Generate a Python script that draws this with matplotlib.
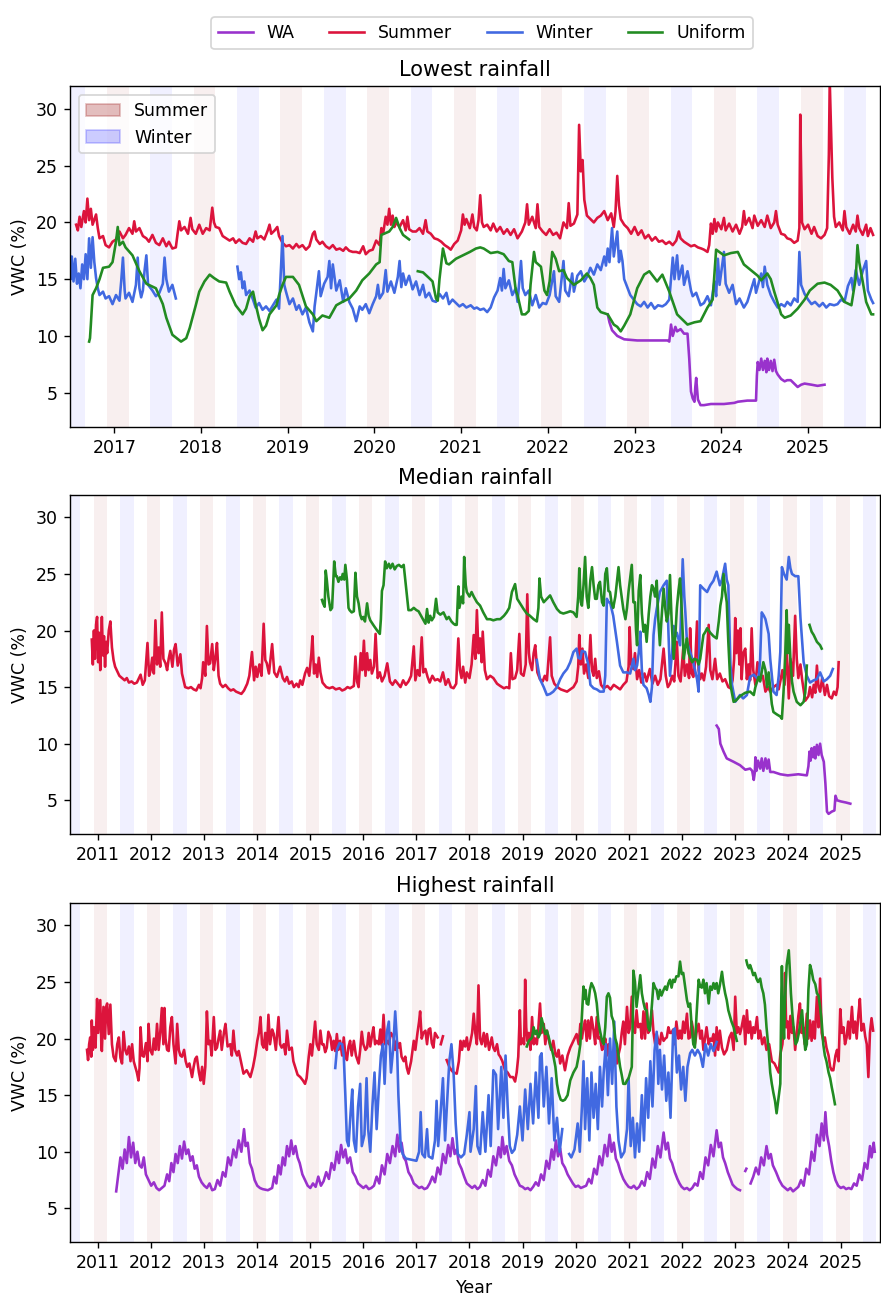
import numpy as np
import matplotlib
matplotlib.use("Agg")
import matplotlib.pyplot as plt
from matplotlib.patches import Patch
from matplotlib.lines import Line2D

nan = float("nan")

# ---------------------------------------------------------------------------
# Volumetric water content (%) by climate group, decimal-year timestamps
# ---------------------------------------------------------------------------

# Lowest rainfall site
low_wa = [(2022.69, 11.9), (2022.71, 11.2), (2022.74, 10.5), (2022.80, 10.0), (2022.88, 9.7),
          (2023.03, 9.6), (2023.19, 9.6), (2023.32, 9.6), (2023.38, 9.6), (2023.40, 9.5),
          (2023.42, 11.0), (2023.44, 10.0), (2023.47, 10.8), (2023.49, 10.4), (2023.53, 10.6),
          (2023.57, 10.2), (2023.61, 10.2), (2023.63, 8.0), (2023.65, 5.1), (2023.67, 4.5),
          (2023.69, 4.2), (2023.70, 5.5), (2023.71, 6.3), (2023.73, 4.4), (2023.76, 3.9),
          (2023.80, 3.9), (2023.88, 4.0), (2024.03, 4.0), (2024.15, 4.1), (2024.19, 4.2),
          (2024.30, 4.3), (2024.40, 4.3), (2024.41, 6.5), (2024.42, 7.7), (2024.44, 7.0),
          (2024.46, 8.0), (2024.48, 7.0), (2024.50, 7.8), (2024.52, 6.8), (2024.53, 8.0),
          (2024.55, 7.0), (2024.57, 7.8), (2024.59, 6.9), (2024.61, 7.9), (2024.63, 6.9),
          (2024.65, 6.6), (2024.69, 6.2), (2024.73, 6.0), (2024.76, 6.1), (2024.80, 6.1),
          (2024.84, 5.8), (2024.88, 5.5), (2024.92, 5.7), (2024.96, 5.8), (2025.04, 5.7),
          (2025.11, 5.6), (2025.19, 5.7)]

low_summer = [(2016.56, 19.8), (2016.58, 19.3), (2016.60, 20.5), (2016.62, 19.6), (2016.65, 21.0),
              (2016.67, 20.0), (2016.69, 22.1), (2016.71, 20.2), (2016.73, 21.2), (2016.75, 19.8),
              (2016.79, 20.7), (2016.81, 19.5), (2016.83, 18.6), (2016.87, 18.8), (2016.90, 18.0),
              (2016.94, 17.8), (2016.98, 18.3), (2017.02, 18.5), (2017.06, 19.2), (2017.10, 18.6),
              (2017.13, 18.9), (2017.17, 19.5), (2017.21, 19.0), (2017.23, 20.1), (2017.25, 19.2),
              (2017.29, 19.5), (2017.33, 18.8), (2017.37, 18.6), (2017.40, 18.3), (2017.44, 18.9),
              (2017.48, 18.2), (2017.52, 18.0), (2017.56, 18.6), (2017.60, 17.9), (2017.63, 18.3),
              (2017.67, 17.7), (2017.71, 17.8), (2017.73, 19.0), (2017.75, 20.1), (2017.77, 19.3),
              (2017.81, 19.6), (2017.85, 19.0), (2017.88, 20.4), (2017.90, 19.4), (2017.94, 19.0),
              (2017.98, 19.8), (2018.02, 19.0), (2018.06, 19.5), (2018.10, 19.3), (2018.13, 21.3),
              (2018.15, 20.0), (2018.17, 19.6), (2018.21, 19.5), (2018.25, 18.8), (2018.29, 18.6),
              (2018.33, 18.4), (2018.37, 18.6), (2018.40, 18.2), (2018.44, 18.5), (2018.48, 18.2),
              (2018.52, 18.1), (2018.56, 18.6), (2018.60, 18.3), (2018.63, 19.2), (2018.65, 18.6),
              (2018.69, 18.8), (2018.73, 18.5), (2018.77, 19.3), (2018.79, 19.8), (2018.81, 19.0),
              (2018.85, 19.3), (2018.88, 19.6), (2018.90, 18.8), (2018.94, 18.2), (2018.98, 17.9),
              (2019.02, 18.0), (2019.06, 17.7), (2019.10, 18.1), (2019.13, 17.8), (2019.17, 18.0),
              (2019.21, 17.6), (2019.25, 17.9), (2019.29, 19.0), (2019.31, 19.2), (2019.33, 18.5),
              (2019.37, 18.1), (2019.40, 18.3), (2019.44, 17.9), (2019.48, 17.7), (2019.52, 18.0),
              (2019.56, 17.6), (2019.60, 17.7), (2019.64, 17.5), (2019.67, 17.8), (2019.71, 17.5),
              (2019.75, 17.4), (2019.79, 17.4), (2019.83, 17.3), (2019.87, 17.9), (2019.90, 17.2),
              (2019.94, 17.5), (2019.98, 17.6), (2020.02, 18.4), (2020.06, 18.0), (2020.08, 19.5),
              (2020.10, 19.0), (2020.13, 20.5), (2020.15, 19.8), (2020.17, 21.2), (2020.19, 19.8),
              (2020.21, 20.6), (2020.23, 19.6), (2020.25, 20.0), (2020.29, 19.6), (2020.33, 20.2),
              (2020.36, 19.3), (2020.38, 20.5), (2020.40, 19.4), (2020.44, 19.2), (2020.48, 19.2),
              (2020.52, 19.5), (2020.56, 19.0), (2020.59, 20.2), (2020.61, 19.2), (2020.65, 19.0),
              (2020.69, 18.6), (2020.73, 18.5), (2020.77, 18.3), (2020.81, 18.0), (2020.85, 17.8),
              (2020.88, 17.6), (2020.92, 18.1), (2020.96, 18.4), (2021.00, 19.3), (2021.02, 20.7),
              (2021.04, 19.8), (2021.06, 20.3), (2021.10, 19.5), (2021.13, 20.7), (2021.15, 19.6),
              (2021.18, 19.3), (2021.20, 20.2), (2021.22, 22.4), (2021.24, 20.0), (2021.26, 19.6),
              (2021.30, 19.8), (2021.34, 19.3), (2021.37, 19.9), (2021.41, 19.2), (2021.45, 19.6),
              (2021.49, 19.0), (2021.53, 19.4), (2021.57, 18.9), (2021.61, 19.4), (2021.65, 18.6),
              (2021.70, 19.2), (2021.74, 20.0), (2021.76, 21.6), (2021.78, 19.8), (2021.82, 20.5),
              (2021.86, 19.5), (2021.88, 21.6), (2021.90, 19.6), (2021.94, 19.2), (2021.98, 18.9),
              (2022.02, 19.4), (2022.06, 18.9), (2022.10, 19.1), (2022.14, 18.6), (2022.18, 20.0),
              (2022.22, 19.5), (2022.24, 21.7), (2022.26, 19.7), (2022.30, 19.9), (2022.34, 20.7),
              (2022.36, 28.6), (2022.38, 24.5), (2022.40, 25.5), (2022.42, 22.0), (2022.45, 20.6),
              (2022.49, 20.3), (2022.53, 20.0), (2022.57, 20.4), (2022.61, 20.6), (2022.65, 21.0),
              (2022.69, 20.2), (2022.73, 20.8), (2022.76, 19.6), (2022.78, 21.0), (2022.80, 24.1),
              (2022.82, 21.5), (2022.84, 20.3), (2022.88, 19.8), (2022.92, 19.5), (2022.96, 19.0),
              (2023.00, 19.6), (2023.04, 18.9), (2023.08, 19.3), (2023.12, 18.6), (2023.16, 18.9),
              (2023.20, 18.4), (2023.24, 18.7), (2023.28, 18.3), (2023.32, 18.4), (2023.36, 18.1),
              (2023.40, 18.3), (2023.44, 18.0), (2023.48, 18.4), (2023.51, 19.2), (2023.53, 18.6),
              (2023.57, 18.3), (2023.61, 18.1), (2023.65, 17.9), (2023.69, 18.0), (2023.73, 17.8),
              (2023.77, 17.7), (2023.80, 17.6), (2023.84, 17.4), (2023.86, 18.0), (2023.88, 19.9),
              (2023.90, 19.0), (2023.92, 20.3), (2023.94, 19.2), (2023.96, 20.0), (2024.00, 19.4),
              (2024.03, 20.4), (2024.05, 19.3), (2024.09, 19.9), (2024.13, 19.2), (2024.17, 19.8),
              (2024.21, 19.0), (2024.24, 19.6), (2024.26, 21.0), (2024.28, 19.8), (2024.32, 20.4),
              (2024.36, 19.5), (2024.38, 20.6), (2024.42, 19.7), (2024.46, 20.2), (2024.50, 19.6),
              (2024.53, 20.6), (2024.57, 19.5), (2024.61, 20.0), (2024.63, 21.0), (2024.65, 19.8),
              (2024.69, 19.0), (2024.73, 18.9), (2024.76, 18.6), (2024.80, 18.5), (2024.84, 18.2),
              (2024.88, 18.4), (2024.90, 19.5), (2024.91, 29.5), (2024.93, 20.0), (2024.96, 19.4),
              (2025.00, 19.8), (2025.04, 19.0), (2025.07, 19.6), (2025.11, 18.8), (2025.15, 18.6),
              (2025.19, 18.9), (2025.22, 19.5), (2025.24, 26.0), (2025.25, 32.5), (2025.27, 27.0),
              (2025.28, 23.9), (2025.30, 20.5), (2025.32, 19.6), (2025.36, 20.0), (2025.40, 19.3),
              (2025.42, 21.0), (2025.44, 19.6), (2025.48, 19.0), (2025.52, 19.8), (2025.55, 19.2),
              (2025.57, 20.6), (2025.59, 19.5), (2025.63, 18.9), (2025.67, 19.8), (2025.69, 18.8),
              (2025.72, 19.5), (2025.75, 18.9)]

low_winter = [(2016.49, 16.0), (2016.50, 15.0), (2016.51, 17.0), (2016.53, 14.8), (2016.55, 16.8),
              (2016.57, 14.6), (2016.59, 15.5), (2016.61, 14.2), (2016.63, 16.3), (2016.65, 15.0),
              (2016.67, 17.2), (2016.69, 15.0), (2016.71, 18.6), (2016.73, 16.0), (2016.75, 18.7),
              (2016.77, 16.5), (2016.79, 15.1), (2016.81, 14.2), (2016.83, 13.6), (2016.87, 13.9),
              (2016.90, 13.3), (2016.94, 13.5), (2016.98, 12.8), (2017.02, 13.6), (2017.06, 13.1),
              (2017.08, 14.8), (2017.10, 16.9), (2017.12, 14.0), (2017.13, 13.3), (2017.17, 13.8),
              (2017.21, 13.0), (2017.25, 14.5), (2017.27, 16.9), (2017.29, 14.2), (2017.31, 13.4),
              (2017.33, 14.0), (2017.35, 15.8), (2017.37, 17.1), (2017.39, 14.5), (2017.44, 14.0),
              (2017.48, 13.5), (2017.52, 13.8), (2017.56, 14.6), (2017.58, 16.9), (2017.60, 15.0),
              (2017.63, 13.9), (2017.67, 14.5), (2017.71, 13.3), (2017.80, nan),
              (2018.42, 16.1), (2018.44, 15.0), (2018.46, 15.6), (2018.48, 14.2), (2018.50, 14.8),
              (2018.52, 13.6), (2018.56, 14.0), (2018.60, 13.2), (2018.63, 12.5), (2018.67, 12.9),
              (2018.71, 12.3), (2018.75, 12.6), (2018.79, 12.2), (2018.83, 12.7), (2018.87, 13.2),
              (2018.90, 12.4), (2018.94, 18.8), (2018.96, 14.5), (2018.98, 13.9), (2019.02, 12.8),
              (2019.06, 13.3), (2019.10, 12.3), (2019.13, 12.7), (2019.17, 11.9), (2019.21, 12.5),
              (2019.25, 11.2), (2019.29, 10.4), (2019.31, 12.6), (2019.33, 13.8), (2019.36, 15.7),
              (2019.38, 13.5), (2019.42, 14.6), (2019.46, 15.2), (2019.48, 16.6), (2019.50, 14.2),
              (2019.52, 16.3), (2019.56, 14.0), (2019.60, 14.9), (2019.64, 13.0), (2019.67, 14.2),
              (2019.71, 13.0), (2019.75, 12.4), (2019.79, 11.3), (2019.83, 12.6), (2019.86, 12.3),
              (2019.90, 12.8), (2019.94, 12.0), (2019.98, 12.8), (2020.02, 13.5), (2020.04, 14.5),
              (2020.06, 13.3), (2020.10, 13.8), (2020.13, 15.8), (2020.15, 13.9), (2020.19, 14.8),
              (2020.23, 13.8), (2020.27, 15.2), (2020.29, 16.6), (2020.31, 14.3), (2020.33, 15.5),
              (2020.36, 14.5), (2020.40, 15.3), (2020.44, 14.1), (2020.48, 14.8), (2020.52, 13.6),
              (2020.56, 14.5), (2020.59, 13.4), (2020.63, 13.8), (2020.67, 13.1), (2020.71, 13.0),
              (2020.75, 13.7), (2020.79, 13.3), (2020.83, 13.8), (2020.86, 12.8), (2020.90, 13.2),
              (2020.94, 12.9), (2020.98, 12.6), (2021.02, 12.8), (2021.06, 12.5), (2021.11, 12.7),
              (2021.15, 12.4), (2021.18, 12.5), (2021.22, 12.3), (2021.26, 12.4), (2021.30, 12.1),
              (2021.34, 12.5), (2021.38, 13.4), (2021.42, 14.0), (2021.45, 15.1), (2021.47, 14.0),
              (2021.49, 15.9), (2021.51, 14.2), (2021.55, 14.9), (2021.59, 13.6), (2021.63, 14.2),
              (2021.65, 13.0), (2021.67, 14.7), (2021.69, 16.6), (2021.71, 14.2), (2021.74, 13.6),
              (2021.78, 14.0), (2021.82, 12.7), (2021.86, 13.6), (2021.90, 12.5), (2021.94, 12.9),
              (2021.98, 12.8), (2022.02, 13.6), (2022.07, 15.7), (2022.09, 13.5), (2022.13, 13.0),
              (2022.18, 16.6), (2022.20, 14.0), (2022.24, 13.5), (2022.28, 15.5), (2022.30, 13.9),
              (2022.34, 15.3), (2022.38, 15.7), (2022.42, 14.8), (2022.45, 15.2), (2022.49, 16.0),
              (2022.53, 15.4), (2022.57, 16.3), (2022.61, 15.8), (2022.65, 17.0), (2022.67, 16.2),
              (2022.69, 17.7), (2022.71, 16.5), (2022.74, 19.5), (2022.76, 17.0), (2022.80, 19.2),
              (2022.82, 16.5), (2022.84, 17.5), (2022.86, 16.6), (2022.88, 15.0), (2022.92, 14.2),
              (2022.95, 13.6), (2022.99, 13.2), (2023.03, 12.8), (2023.07, 12.6), (2023.11, 13.0),
              (2023.15, 12.5), (2023.19, 12.9), (2023.23, 12.4), (2023.27, 12.7), (2023.32, 12.6),
              (2023.36, 12.8), (2023.40, 13.2), (2023.44, 16.9), (2023.46, 15.0), (2023.49, 17.1),
              (2023.51, 15.0), (2023.55, 16.2), (2023.57, 14.5), (2023.61, 15.7), (2023.65, 14.0),
              (2023.67, 13.5), (2023.71, 13.8), (2023.76, 12.7), (2023.80, 12.9), (2023.84, 13.5),
              (2023.88, 12.7), (2023.92, 14.8), (2023.94, 13.5), (2023.96, 16.8), (2023.98, 14.5),
              (2024.03, 17.4), (2024.05, 14.6), (2024.09, 13.8), (2024.13, 14.5), (2024.17, 12.8),
              (2024.21, 13.3), (2024.26, 12.5), (2024.30, 13.0), (2024.34, 14.0), (2024.38, 15.0),
              (2024.40, 13.8), (2024.46, 15.5), (2024.48, 14.3), (2024.50, 16.1), (2024.53, 14.5),
              (2024.57, 13.6), (2024.61, 13.0), (2024.65, 12.5), (2024.69, 12.8), (2024.73, 12.6),
              (2024.76, 13.0), (2024.80, 12.7), (2024.84, 13.3), (2024.88, 13.0), (2024.90, 17.4),
              (2024.92, 14.5), (2024.96, 13.7), (2025.00, 13.2), (2025.04, 12.8), (2025.08, 13.0),
              (2025.13, 12.6), (2025.17, 12.9), (2025.21, 12.5), (2025.25, 12.8), (2025.30, 12.7),
              (2025.34, 12.8), (2025.38, 13.2), (2025.42, 13.0), (2025.46, 14.4), (2025.50, 15.1),
              (2025.52, 14.0), (2025.55, 15.8), (2025.59, 14.5), (2025.63, 15.7), (2025.67, 16.6),
              (2025.69, 14.0), (2025.73, 13.2), (2025.75, 12.9)]

low_uniform = [(2016.71, 9.5), (2016.72, 9.8), (2016.73, 11.0), (2016.75, 13.6), (2016.79, 14.2),
               (2016.83, 15.0), (2016.87, 16.0), (2016.94, 16.1), (2016.98, 16.5), (2017.02, 18.3),
               (2017.04, 19.6), (2017.06, 18.0), (2017.10, 18.3), (2017.13, 17.8), (2017.21, 17.1),
               (2017.29, 15.7), (2017.37, 14.6), (2017.48, 14.2), (2017.56, 12.8), (2017.60, 11.6),
               (2017.67, 10.1), (2017.72, 9.8), (2017.77, 9.5), (2017.83, 9.8), (2017.87, 10.7),
               (2017.94, 12.7), (2017.98, 13.9), (2018.04, 14.8), (2018.10, 15.4), (2018.15, 15.1),
               (2018.21, 14.8), (2018.29, 14.7), (2018.33, 13.9), (2018.40, 12.7), (2018.48, 11.9),
               (2018.52, 12.4), (2018.56, 13.5), (2018.60, 13.9), (2018.63, 12.8), (2018.67, 11.5),
               (2018.71, 10.5), (2018.75, 10.9), (2018.79, 11.9), (2018.87, 12.7), (2018.90, 13.6),
               (2018.94, 14.5), (2018.98, 15.2), (2019.06, 15.2), (2019.13, 14.5), (2019.21, 12.6),
               (2019.29, 11.9), (2019.33, 11.3), (2019.40, 11.8), (2019.48, 11.6), (2019.56, 12.7),
               (2019.63, 13.0), (2019.71, 13.3), (2019.79, 14.0), (2019.86, 14.9), (2019.94, 15.5),
               (2020.02, 16.3), (2020.06, 16.5), (2020.08, 18.9), (2020.17, 19.2), (2020.21, 19.6),
               (2020.25, 20.4), (2020.29, 19.5), (2020.33, 18.9), (2020.40, 18.5), (2020.44, nan),
               (2020.50, 15.7), (2020.56, 15.6), (2020.63, 15.1), (2020.67, 14.8), (2020.71, 13.3),
               (2020.73, 13.1), (2020.75, 15.0), (2020.79, 17.7), (2020.83, 16.4), (2020.86, 16.3),
               (2020.94, 16.8), (2021.02, 17.1), (2021.10, 17.4), (2021.17, 17.7), (2021.22, 17.8),
               (2021.26, 17.7), (2021.34, 17.3), (2021.42, 17.4), (2021.49, 17.2), (2021.55, 16.6),
               (2021.59, 16.5), (2021.63, 14.0), (2021.65, 13.6), (2021.70, 11.9), (2021.74, 11.9),
               (2021.78, 12.2), (2021.80, 14.5), (2021.84, 17.4), (2021.86, 16.5), (2021.92, 16.1),
               (2021.96, 14.0), (2021.99, 13.6), (2022.02, 14.8), (2022.05, 17.4), (2022.09, 16.8),
               (2022.13, 15.7), (2022.18, 15.8), (2022.22, 15.1), (2022.30, 14.5), (2022.38, 14.9),
               (2022.45, 15.5), (2022.49, 15.1), (2022.53, 14.5), (2022.57, 12.5), (2022.61, 12.1),
               (2022.69, 11.9), (2022.76, 11.0), (2022.80, 10.8), (2022.84, 10.4), (2022.88, 10.9),
               (2022.95, 11.9), (2023.03, 14.2), (2023.11, 15.4), (2023.17, 15.7), (2023.22, 15.2),
               (2023.26, 14.8), (2023.32, 15.4), (2023.40, 13.9), (2023.49, 11.9), (2023.57, 11.3),
               (2023.61, 11.0), (2023.69, 11.2), (2023.76, 11.3), (2023.84, 12.5), (2023.90, 13.2),
               (2023.94, 17.6), (2024.03, 17.1), (2024.11, 17.3), (2024.19, 17.4), (2024.26, 16.3),
               (2024.34, 15.8), (2024.42, 15.3), (2024.46, 14.9), (2024.53, 15.5), (2024.57, 15.0),
               (2024.61, 13.9), (2024.69, 11.9), (2024.73, 11.6), (2024.80, 11.8), (2024.88, 12.4),
               (2024.96, 13.2), (2025.02, 14.0), (2025.11, 14.6), (2025.19, 14.7), (2025.26, 14.5),
               (2025.34, 14.0), (2025.42, 13.0), (2025.50, 12.7), (2025.55, 15.1), (2025.57, 18.0),
               (2025.59, 16.5), (2025.63, 14.8), (2025.67, 13.0), (2025.73, 11.9), (2025.75, 11.9)]

# Median rainfall site
med_wa = [(2022.66, 11.6), (2022.70, 11.3), (2022.73, 10.0), (2022.79, 9.3), (2022.85, 8.7),
          (2022.98, 8.4), (2023.10, 8.1), (2023.20, 7.7), (2023.29, 7.8), (2023.33, 7.6),
          (2023.36, 6.8), (2023.38, 7.5), (2023.39, 8.8), (2023.41, 7.6), (2023.44, 8.5),
          (2023.48, 7.8), (2023.51, 8.7), (2023.54, 7.6), (2023.58, 8.7), (2023.61, 7.8),
          (2023.64, 8.6), (2023.67, 7.5), (2023.73, 7.5), (2023.86, 7.3), (2024.00, 7.2),
          (2024.20, 7.3), (2024.36, 7.2), (2024.39, 8.0), (2024.41, 9.3), (2024.43, 8.5),
          (2024.45, 9.6), (2024.48, 8.8), (2024.50, 9.7), (2024.52, 8.7), (2024.55, 9.9),
          (2024.58, 9.0), (2024.61, 10.0), (2024.64, 9.0), (2024.68, 8.4), (2024.71, 6.5),
          (2024.74, 4.0), (2024.77, 3.8), (2024.83, 4.0), (2024.88, 4.1), (2024.90, 5.4),
          (2024.93, 5.0), (2025.00, 4.9), (2025.10, 4.8), (2025.18, 4.7)]

med_summer = [(2010.88, 19.2), (2010.90, 17.0), (2010.92, 20.0), (2010.94, 17.5), (2010.96, 20.5),
              (2010.98, 21.2), (2011.00, 17.2), (2011.02, 19.8), (2011.04, 16.5), (2011.07, 21.2),
              (2011.09, 17.8), (2011.11, 19.5), (2011.13, 16.8), (2011.15, 19.0), (2011.17, 18.0),
              (2011.20, 20.0), (2011.23, 20.8), (2011.26, 18.5), (2011.29, 17.4), (2011.32, 16.8),
              (2011.36, 16.4), (2011.40, 16.0), (2011.45, 15.8), (2011.50, 15.6), (2011.54, 15.8),
              (2011.58, 15.4), (2011.63, 15.5), (2011.68, 15.3), (2011.73, 15.4), (2011.80, 16.1),
              (2011.84, 15.2), (2011.88, 15.6), (2011.93, 18.9), (2011.96, 16.0), (2011.99, 16.5),
              (2012.02, 17.6), (2012.05, 16.2), (2012.08, 20.9), (2012.11, 17.0), (2012.14, 18.5),
              (2012.17, 16.8), (2012.20, 21.6), (2012.23, 17.5), (2012.27, 17.1), (2012.30, 16.5),
              (2012.33, 17.5), (2012.36, 18.2), (2012.40, 16.8), (2012.43, 18.3), (2012.46, 18.8),
              (2012.50, 16.9), (2012.55, 17.9), (2012.58, 16.2), (2012.61, 15.6), (2012.64, 15.0),
              (2012.70, 14.9), (2012.75, 15.0), (2012.80, 14.8), (2012.85, 14.7), (2012.90, 15.2),
              (2012.93, 14.9), (2012.96, 15.8), (2012.98, 17.2), (2013.02, 16.0), (2013.05, 20.4),
              (2013.08, 17.0), (2013.11, 17.1), (2013.15, 18.8), (2013.18, 16.5), (2013.21, 17.6),
              (2013.24, 18.9), (2013.27, 16.0), (2013.30, 15.3), (2013.35, 15.0), (2013.40, 15.2),
              (2013.45, 14.9), (2013.50, 14.7), (2013.55, 14.8), (2013.60, 14.6), (2013.65, 14.5),
              (2013.70, 14.4), (2013.75, 14.7), (2013.81, 15.3), (2013.85, 16.0), (2013.90, 18.1),
              (2013.94, 15.6), (2013.97, 16.8), (2014.00, 15.9), (2014.04, 17.0), (2014.08, 16.0),
              (2014.12, 20.6), (2014.15, 17.4), (2014.18, 17.1), (2014.22, 16.2), (2014.25, 17.5),
              (2014.28, 18.8), (2014.32, 16.3), (2014.37, 15.9), (2014.43, 16.8), (2014.48, 15.8),
              (2014.52, 15.5), (2014.56, 15.9), (2014.60, 15.3), (2014.65, 15.5), (2014.69, 15.0),
              (2014.74, 15.3), (2014.78, 15.0), (2014.81, 15.6), (2014.85, 15.2), (2014.90, 16.2),
              (2014.94, 16.7), (2014.98, 16.0), (2015.02, 18.0), (2015.04, 19.5), (2015.07, 16.2),
              (2015.10, 17.0), (2015.13, 15.9), (2015.16, 17.6), (2015.19, 16.3), (2015.23, 15.4),
              (2015.30, 15.0), (2015.36, 14.9), (2015.42, 15.0), (2015.48, 14.8), (2015.55, 14.9),
              (2015.60, 14.7), (2015.65, 14.8), (2015.70, 15.0), (2015.75, 14.9), (2015.82, 15.1),
              (2015.85, 17.7), (2015.88, 15.5), (2015.91, 15.0), (2015.95, 18.0), (2015.98, 16.5),
              (2016.01, 19.1), (2016.04, 16.0), (2016.07, 18.0), (2016.10, 16.5), (2016.13, 17.4),
              (2016.16, 16.2), (2016.20, 16.8), (2016.23, 19.7), (2016.27, 15.8), (2016.31, 16.3),
              (2016.35, 15.5), (2016.40, 16.0), (2016.45, 17.1), (2016.50, 15.5), (2016.55, 15.2),
              (2016.60, 15.6), (2016.65, 15.3), (2016.70, 15.0), (2016.75, 15.6), (2016.80, 15.2),
              (2016.85, 15.5), (2016.90, 16.0), (2016.95, 18.6), (2016.98, 15.6), (2017.02, 16.5),
              (2017.06, 16.0), (2017.10, 19.4), (2017.13, 16.3), (2017.17, 16.6), (2017.21, 15.9),
              (2017.25, 15.4), (2017.30, 16.0), (2017.35, 15.6), (2017.40, 15.7), (2017.45, 15.5),
              (2017.50, 16.3), (2017.55, 15.2), (2017.60, 15.7), (2017.65, 15.0), (2017.70, 14.9),
              (2017.75, 15.3), (2017.79, 19.3), (2017.82, 16.5), (2017.85, 15.8), (2017.88, 16.8),
              (2017.92, 15.4), (2017.95, 16.3), (2018.00, 15.8), (2018.04, 17.0), (2018.08, 19.6),
              (2018.11, 17.5), (2018.14, 21.8), (2018.17, 18.0), (2018.20, 19.3), (2018.23, 17.2),
              (2018.25, 19.9), (2018.29, 16.5), (2018.33, 15.7), (2018.39, 16.0), (2018.45, 15.8),
              (2018.52, 15.3), (2018.58, 15.1), (2018.65, 14.9), (2018.70, 15.0), (2018.75, 14.9),
              (2018.78, 18.0), (2018.81, 15.7), (2018.86, 15.8), (2018.90, 16.5), (2018.94, 19.7),
              (2018.97, 16.2), (2019.02, 16.0), (2019.06, 17.0), (2019.09, 23.2), (2019.12, 18.0),
              (2019.14, 17.2), (2019.18, 16.5), (2019.21, 18.0), (2019.24, 18.7), (2019.28, 16.3),
              (2019.33, 15.7), (2019.38, 15.5), (2019.42, 16.0), (2019.46, 15.6), (2019.52, 19.4),
              (2019.55, 16.0), (2019.60, 15.3), (2019.66, 15.0), (2019.72, 14.8), (2019.78, 14.7),
              (2019.84, 14.6), (2019.90, 14.8), (2019.96, 15.0), (2020.02, 15.5), (2020.05, 16.8),
              (2020.07, 19.6), (2020.10, 17.0), (2020.13, 18.4), (2020.16, 16.2), (2020.20, 17.0),
              (2020.24, 15.8), (2020.28, 19.6), (2020.31, 16.5), (2020.34, 16.0), (2020.37, 17.5),
              (2020.40, 15.8), (2020.44, 16.4), (2020.48, 15.2), (2020.53, 14.9), (2020.60, 15.1),
              (2020.66, 14.8), (2020.72, 15.2), (2020.78, 15.0), (2020.84, 14.8), (2020.90, 15.2),
              (2020.96, 15.5), (2021.00, 16.8), (2021.02, 20.3), (2021.05, 17.0), (2021.09, 16.6),
              (2021.12, 18.0), (2021.16, 15.7), (2021.20, 16.5), (2021.24, 15.4), (2021.30, 16.2),
              (2021.34, 15.5), (2021.40, 16.6), (2021.45, 15.3), (2021.50, 16.0), (2021.55, 15.2),
              (2021.60, 15.7), (2021.66, 18.4), (2021.70, 16.0), (2021.74, 15.0), (2021.78, 15.3),
              (2021.82, 16.0), (2021.86, 15.5), (2021.91, 19.0), (2021.94, 16.0), (2021.98, 15.5),
              (2022.03, 18.4), (2022.06, 16.0), (2022.10, 17.0), (2022.14, 15.8), (2022.16, 20.2),
              (2022.19, 16.2), (2022.22, 15.9), (2022.26, 17.5), (2022.29, 20.8), (2022.32, 16.5),
              (2022.35, 15.7), (2022.38, 16.2), (2022.42, 15.6), (2022.46, 16.8), (2022.51, 20.5),
              (2022.54, 16.5), (2022.58, 15.7), (2022.63, 17.5), (2022.67, 15.7), (2022.72, 16.2),
              (2022.77, 15.5), (2022.82, 15.7), (2022.88, 15.0), (2022.92, 14.9), (2022.96, 15.6),
              (2022.99, 17.5), (2023.01, 21.1), (2023.03, 18.0), (2023.06, 20.0), (2023.09, 17.0),
              (2023.11, 20.2), (2023.13, 15.7), (2023.16, 18.0), (2023.20, 18.4), (2023.23, 15.7),
              (2023.26, 17.0), (2023.29, 15.6), (2023.32, 20.2), (2023.35, 16.5), (2023.39, 15.2),
              (2023.43, 17.2), (2023.48, 15.7), (2023.53, 16.0), (2023.58, 14.6), (2023.63, 15.0),
              (2023.67, 14.6), (2023.73, 15.0), (2023.79, 15.2), (2023.83, 14.8), (2023.86, 15.5),
              (2023.90, 16.5), (2023.94, 15.2), (2023.98, 18.4), (2024.02, 14.0), (2024.05, 17.5),
              (2024.10, 16.0), (2024.14, 21.3), (2024.17, 17.5), (2024.20, 15.8), (2024.24, 17.0),
              (2024.27, 15.7), (2024.33, 13.8), (2024.39, 14.2), (2024.42, 15.0), (2024.46, 14.1),
              (2024.49, 15.2), (2024.52, 14.5), (2024.55, 16.9), (2024.58, 15.0), (2024.61, 14.6),
              (2024.65, 15.8), (2024.70, 14.3), (2024.74, 15.2), (2024.78, 14.2), (2024.83, 14.0),
              (2024.87, 14.6), (2024.91, 14.3), (2024.94, 15.0), (2024.96, 17.2)]

med_winter = [(2019.27, 17.4), (2019.30, 16.5), (2019.33, 15.7), (2019.40, 15.0), (2019.46, 14.3),
              (2019.52, 14.4), (2019.58, 14.6), (2019.65, 15.0), (2019.71, 15.7), (2019.77, 16.2),
              (2019.84, 16.6), (2019.90, 17.2), (2019.96, 18.1), (2020.02, 18.4), (2020.05, 17.6),
              (2020.09, 17.5), (2020.12, 18.2), (2020.18, 18.1), (2020.24, 17.0), (2020.28, 15.2),
              (2020.34, 14.9), (2020.40, 14.8), (2020.46, 14.6), (2020.53, 14.6), (2020.56, 16.0),
              (2020.59, 22.8), (2020.62, 22.5), (2020.65, 22.5), (2020.71, 21.3), (2020.78, 19.0),
              (2020.84, 16.9), (2020.90, 16.3), (2020.97, 16.3), (2021.03, 16.2), (2021.09, 17.5),
              (2021.12, 16.5), (2021.16, 16.9), (2021.19, 18.0), (2021.22, 19.9), (2021.25, 16.5),
              (2021.28, 15.2), (2021.34, 14.9), (2021.38, 14.3), (2021.41, 13.7), (2021.44, 15.0),
              (2021.47, 19.6), (2021.50, 21.0), (2021.53, 21.9), (2021.59, 23.4), (2021.66, 24.0),
              (2021.72, 24.4), (2021.75, 20.0), (2021.78, 16.0), (2021.82, 18.0), (2021.85, 20.4),
              (2021.88, 19.5), (2021.91, 19.8), (2021.97, 18.7), (2022.02, 26.3), (2022.05, 23.0),
              (2022.07, 21.6), (2022.10, 19.0), (2022.16, 18.1), (2022.22, 17.2), (2022.29, 15.7),
              (2022.32, 14.6), (2022.35, 24.0), (2022.41, 23.7), (2022.48, 23.4), (2022.54, 24.0),
              (2022.60, 24.4), (2022.66, 25.2), (2022.72, 24.0), (2022.76, 24.5), (2022.82, 25.9),
              (2022.85, 24.5), (2022.88, 24.0), (2022.92, 17.0), (2022.95, 15.2), (2023.01, 13.7),
              (2023.04, 13.9), (2023.10, 14.3), (2023.16, 14.0), (2023.23, 14.3), (2023.29, 15.9),
              (2023.36, 16.1), (2023.42, 15.8), (2023.45, 15.7), (2023.48, 17.5), (2023.51, 21.6),
              (2023.55, 21.3), (2023.58, 21.0), (2023.64, 19.7), (2023.67, 17.5), (2023.73, 14.6),
              (2023.79, 14.3), (2023.83, 16.0), (2023.86, 18.1), (2023.89, 25.6), (2023.93, 25.0),
              (2023.98, 24.5), (2024.02, 26.5), (2024.05, 25.5), (2024.08, 25.0), (2024.14, 24.8),
              (2024.20, 24.8), (2024.24, 21.1), (2024.30, 17.2), (2024.36, 16.0), (2024.42, 15.4),
              (2024.49, 15.6), (2024.55, 15.7), (2024.61, 16.3), (2024.68, 15.5), (2024.74, 15.7),
              (2024.80, 16.0), (2024.85, 16.6)]

med_uniform = [(2015.22, 22.7), (2015.24, 22.4), (2015.27, 22.1), (2015.29, 25.3), (2015.31, 24.5),
               (2015.34, 23.0), (2015.38, 21.8), (2015.41, 22.0), (2015.45, 26.1), (2015.48, 24.8),
               (2015.50, 24.8), (2015.53, 24.3), (2015.56, 24.7), (2015.59, 24.5), (2015.61, 25.0),
               (2015.64, 24.5), (2015.66, 25.8), (2015.69, 24.5), (2015.72, 22.0), (2015.74, 21.8),
               (2015.78, 21.6), (2015.82, 21.7), (2015.85, 25.1), (2015.88, 23.0), (2015.91, 22.4),
               (2015.94, 21.4), (2015.97, 21.0), (2016.00, 21.2), (2016.03, 20.8), (2016.07, 22.4),
               (2016.10, 21.3), (2016.13, 20.9), (2016.20, 20.4), (2016.26, 20.0), (2016.31, 19.7),
               (2016.33, 21.0), (2016.35, 23.5), (2016.38, 24.0), (2016.41, 26.1), (2016.44, 25.5),
               (2016.48, 25.9), (2016.51, 25.5), (2016.55, 25.9), (2016.59, 25.4), (2016.63, 25.7),
               (2016.67, 25.8), (2016.72, 25.6), (2016.76, 25.8), (2016.80, 24.0), (2016.85, 21.8),
               (2016.90, 21.8), (2016.95, 22.0), (2017.00, 21.8), (2017.04, 21.7), (2017.10, 21.2),
               (2017.17, 20.6), (2017.20, 21.9), (2017.23, 20.7), (2017.26, 21.3), (2017.29, 20.9),
               (2017.33, 21.2), (2017.37, 22.8), (2017.40, 21.6), (2017.45, 21.4), (2017.51, 21.6),
               (2017.57, 21.0), (2017.61, 21.2), (2017.66, 20.8), (2017.70, 20.6), (2017.73, 20.5),
               (2017.76, 20.5), (2017.79, 23.9), (2017.81, 22.0), (2017.85, 23.0), (2017.88, 22.4),
               (2017.90, 26.5), (2017.93, 24.0), (2017.95, 23.4), (2018.00, 23.0), (2018.04, 23.4),
               (2018.08, 23.0), (2018.14, 22.5), (2018.20, 22.2), (2018.26, 21.6), (2018.33, 21.0),
               (2018.39, 21.0), (2018.45, 20.9), (2018.52, 21.0), (2018.58, 21.0), (2018.65, 21.3),
               (2018.70, 21.6), (2018.75, 22.0), (2018.80, 23.4), (2018.86, 24.1), (2018.90, 22.8),
               (2018.94, 22.5), (2019.02, 21.9), (2019.08, 21.5), (2019.14, 21.3), (2019.21, 21.0),
               (2019.27, 20.8), (2019.30, 22.0), (2019.32, 24.6), (2019.35, 23.0), (2019.40, 22.5),
               (2019.46, 22.8), (2019.52, 23.1), (2019.58, 22.5), (2019.65, 21.9), (2019.71, 21.6),
               (2019.77, 21.5), (2019.84, 21.6), (2019.90, 21.7), (2019.96, 21.6), (2020.02, 21.2),
               (2020.05, 23.0), (2020.07, 25.5), (2020.10, 22.5), (2020.12, 22.2), (2020.15, 24.0),
               (2020.18, 26.5), (2020.21, 23.0), (2020.24, 22.0), (2020.28, 24.5), (2020.31, 25.6),
               (2020.34, 24.0), (2020.37, 22.8), (2020.40, 22.8), (2020.43, 24.0), (2020.46, 24.3),
               (2020.50, 22.5), (2020.53, 22.2), (2020.56, 25.0), (2020.59, 25.5), (2020.62, 23.5),
               (2020.65, 23.4), (2020.68, 22.4), (2020.71, 22.0), (2020.75, 23.0), (2020.81, 25.6),
               (2020.84, 24.0), (2020.90, 21.9), (2020.94, 21.0), (2020.97, 22.0), (2021.00, 23.5),
               (2021.06, 25.8), (2021.09, 22.5), (2021.12, 22.5), (2021.14, 20.0), (2021.16, 18.7),
               (2021.19, 23.5), (2021.22, 24.9), (2021.25, 21.5), (2021.28, 19.9), (2021.31, 20.5),
               (2021.34, 19.0), (2021.38, 21.5), (2021.41, 23.0), (2021.44, 24.0), (2021.47, 23.7),
               (2021.50, 23.0), (2021.53, 24.4), (2021.56, 21.0), (2021.59, 18.7), (2021.62, 21.0),
               (2021.66, 23.7), (2021.69, 22.0), (2021.72, 20.8), (2021.75, 21.5), (2021.78, 24.9),
               (2021.81, 21.0), (2021.85, 17.5), (2021.88, 19.5), (2021.91, 22.0), (2021.94, 23.5),
               (2021.97, 24.6), (2022.00, 22.0), (2022.04, 17.5), (2022.07, 18.5), (2022.10, 19.3),
               (2022.13, 18.0), (2022.16, 17.6), (2022.20, 17.2), (2022.24, 17.5), (2022.29, 17.4),
               (2022.32, 17.0), (2022.35, 17.5), (2022.41, 19.6), (2022.45, 19.9), (2022.48, 20.2),
               (2022.54, 19.8), (2022.60, 19.5), (2022.66, 19.3), (2022.70, 20.8), (2022.73, 22.2),
               (2022.76, 23.0), (2022.79, 25.0), (2022.82, 23.5), (2022.85, 22.5), (2022.88, 19.0),
               (2022.92, 15.2), (2022.98, 13.7), (2023.02, 13.8), (2023.10, 14.2), (2023.20, 14.5),
               (2023.29, 14.6), (2023.36, 14.3), (2023.39, 15.0), (2023.45, 15.9), (2023.48, 15.5),
               (2023.54, 17.2), (2023.58, 16.5), (2023.61, 15.0), (2023.64, 16.3), (2023.67, 14.9),
               (2023.70, 13.5), (2023.73, 12.8), (2023.79, 12.6), (2023.86, 12.4), (2023.89, 12.2),
               (2023.92, 14.5), (2023.95, 17.5), (2023.98, 21.8), (2024.00, 18.0), (2024.02, 20.5),
               (2024.05, 17.5), (2024.08, 15.5), (2024.11, 14.6), (2024.17, 13.7), (2024.24, 13.4),
               (2024.30, 13.7), (2024.33, 14.5), (2024.36, 16.9), (2024.38, nan), (2024.41, 20.5),
               (2024.45, 19.9), (2024.49, 19.6), (2024.55, 19.0), (2024.61, 18.7), (2024.64, 18.4)]

# Highest rainfall site
high_wa = [(2011.34, 6.5), (2011.38, 8.0), (2011.42, 9.5), (2011.46, 8.5), (2011.50, 10.2),
           (2011.54, 9.0), (2011.58, 11.3), (2011.62, 9.5), (2011.66, 10.8), (2011.70, 9.0),
           (2011.74, 10.0), (2011.78, 8.8), (2011.82, 8.6), (2011.86, 9.5), (2011.90, 8.0),
           (2011.95, 7.5), (2012.00, 7.0), (2012.05, 7.3), (2012.10, 6.8), (2012.15, 6.6),
           (2012.20, 6.8), (2012.25, 7.0), (2012.30, 8.0), (2012.34, 7.4), (2012.38, 9.0),
           (2012.42, 8.2), (2012.46, 9.8), (2012.50, 9.0), (2012.54, 10.5), (2012.58, 9.4),
           (2012.62, 10.9), (2012.66, 9.8), (2012.70, 10.2), (2012.74, 9.2), (2012.78, 9.6),
           (2012.82, 8.5), (2012.86, 8.8), (2012.90, 7.8), (2012.95, 7.3), (2013.00, 7.0),
           (2013.05, 6.8), (2013.10, 7.2), (2013.15, 6.6), (2013.20, 6.7), (2013.25, 7.5),
           (2013.30, 7.0), (2013.35, 8.2), (2013.40, 7.8), (2013.45, 9.5), (2013.50, 8.8),
           (2013.55, 10.2), (2013.60, 9.5), (2013.65, 11.0), (2013.70, 10.0), (2013.75, 12.0),
           (2013.78, 10.5), (2013.82, 10.8), (2013.86, 9.0), (2013.90, 8.5), (2013.95, 7.5),
           (2014.00, 7.0), (2014.05, 6.8), (2014.10, 6.7), (2014.20, 6.6), (2014.28, 6.8),
           (2014.32, 7.8), (2014.36, 7.2), (2014.40, 8.8), (2014.44, 8.0), (2014.48, 9.5),
           (2014.52, 8.8), (2014.56, 10.5), (2014.60, 9.6), (2014.64, 11.0), (2014.68, 9.8),
           (2014.72, 10.5), (2014.76, 9.5), (2014.80, 9.0), (2014.85, 8.0), (2014.90, 7.5),
           (2014.95, 7.0), (2015.00, 6.8), (2015.05, 7.2), (2015.10, 6.9), (2015.15, 7.8),
           (2015.20, 7.0), (2015.25, 7.4), (2015.30, 8.2), (2015.35, 7.6), (2015.40, 9.0),
           (2015.45, 8.4), (2015.50, 10.0), (2015.54, 9.0), (2015.58, 10.6), (2015.62, 9.5),
           (2015.66, 10.2), (2015.70, 9.0), (2015.75, 9.5), (2015.80, 8.2), (2015.85, 7.8),
           (2015.90, 7.2), (2015.95, 7.0), (2016.00, 6.8), (2016.05, 7.0), (2016.10, 6.7),
           (2016.15, 6.8), (2016.20, 7.0), (2016.25, 7.8), (2016.30, 7.2), (2016.35, 8.8),
           (2016.40, 8.0), (2016.45, 9.8), (2016.50, 9.0), (2016.55, 10.5), (2016.60, 9.6),
           (2016.64, 11.5), (2016.68, 10.0), (2016.72, 10.8), (2016.76, 9.5), (2016.80, 9.2),
           (2016.85, 8.2), (2016.90, 7.8), (2016.95, 7.2), (2017.00, 7.0), (2017.05, 6.8),
           (2017.10, 6.9), (2017.15, 6.7), (2017.20, 6.8), (2017.25, 7.2), (2017.30, 7.8),
           (2017.35, 7.3), (2017.40, 8.6), (2017.45, 8.0), (2017.50, 9.8), (2017.55, 9.0),
           (2017.60, 10.6), (2017.64, 9.6), (2017.68, 11.2), (2017.72, 9.8), (2017.76, 10.2),
           (2017.80, 9.0), (2017.85, 8.5), (2017.90, 7.8), (2017.95, 7.2), (2018.00, 7.0),
           (2018.05, 6.8), (2018.10, 7.0), (2018.15, 6.7), (2018.20, 6.9), (2018.25, 7.5),
           (2018.30, 7.0), (2018.35, 8.4), (2018.40, 7.8), (2018.45, 9.6), (2018.50, 8.8),
           (2018.55, 10.4), (2018.59, 9.5), (2018.62, 11.3), (2018.66, 9.8), (2018.70, 10.5),
           (2018.75, 9.2), (2018.80, 8.8), (2018.85, 8.0), (2018.90, 7.5), (2018.95, 7.0),
           (2019.00, 6.9), (2019.05, 6.7), (2019.10, 6.8), (2019.15, 6.6), (2019.20, 6.9),
           (2019.25, 7.3), (2019.30, 7.0), (2019.35, 8.0), (2019.40, 7.5), (2019.45, 9.2),
           (2019.50, 8.5), (2019.55, 10.2), (2019.59, 9.3), (2019.63, 11.0), (2019.67, 9.6),
           (2019.71, 10.3), (2019.75, 9.0), (2019.80, 8.6), (2019.85, 8.0), (2019.90, 7.6),
           (2019.95, 7.2), (2020.00, 6.9), (2020.05, 7.0), (2020.10, 6.8), (2020.15, 6.9),
           (2020.20, 7.0), (2020.25, 7.6), (2020.30, 7.2), (2020.35, 8.5), (2020.40, 8.0),
           (2020.45, 9.6), (2020.50, 8.8), (2020.55, 10.6), (2020.60, 9.6), (2020.64, 11.5),
           (2020.68, 10.0), (2020.72, 10.8), (2020.76, 9.4), (2020.80, 9.0), (2020.85, 8.2),
           (2020.90, 7.6), (2020.95, 7.2), (2021.00, 6.9), (2021.05, 6.8), (2021.10, 7.0),
           (2021.15, 6.7), (2021.20, 6.9), (2021.25, 7.4), (2021.30, 7.0), (2021.35, 8.2),
           (2021.40, 7.6), (2021.45, 9.4), (2021.50, 8.6), (2021.55, 10.5), (2021.60, 9.5),
           (2021.66, 11.7), (2021.70, 10.2), (2021.74, 10.8), (2021.78, 9.4), (2021.82, 9.0),
           (2021.87, 8.2), (2021.92, 7.6), (2021.96, 7.2), (2022.00, 6.9), (2022.05, 6.7),
           (2022.10, 6.8), (2022.15, 6.6), (2022.20, 6.8), (2022.25, 7.2), (2022.30, 7.0),
           (2022.35, 8.2), (2022.40, 7.6), (2022.45, 9.5), (2022.50, 8.8), (2022.55, 10.6),
           (2022.60, 9.6), (2022.66, 11.9), (2022.70, 10.4), (2022.74, 10.8), (2022.78, 9.5),
           (2022.82, 9.0), (2022.87, 8.2), (2022.92, 7.6), (2022.96, 7.1), (2023.00, 6.9),
           (2023.05, 6.7), (2023.10, 6.6), (2023.15, nan), (2023.20, 8.3), (2023.22, 8.5),
           (2023.24, nan), (2023.30, 7.2), (2023.35, 7.8), (2023.40, 8.6), (2023.45, 8.0),
           (2023.50, 9.5), (2023.55, 8.8), (2023.60, 10.5), (2023.64, 9.4), (2023.68, 9.8),
           (2023.72, 8.8), (2023.78, 8.2), (2023.84, 7.5), (2023.90, 7.0), (2023.95, 6.8),
           (2024.00, 6.6), (2024.05, 6.8), (2024.10, 6.5), (2024.15, 6.7), (2024.20, 6.9),
           (2024.25, 7.5), (2024.30, 7.0), (2024.35, 8.5), (2024.40, 8.0), (2024.45, 10.0),
           (2024.50, 9.2), (2024.55, 11.5), (2024.60, 10.5), (2024.64, 12.5), (2024.68, 11.0),
           (2024.71, 13.5), (2024.74, 11.5), (2024.78, 10.5), (2024.82, 9.2), (2024.86, 8.2),
           (2024.90, 7.5), (2024.95, 7.0), (2025.00, 6.8), (2025.05, 6.9), (2025.10, 6.7),
           (2025.15, 6.8), (2025.20, 6.7), (2025.25, 7.2), (2025.30, 7.0), (2025.35, 8.0),
           (2025.40, 7.5), (2025.45, 9.0), (2025.50, 8.5), (2025.55, 10.5), (2025.58, 9.5),
           (2025.62, 10.8), (2025.64, 10.0)]

high_summer = [(2010.79, 19.0), (2010.81, 18.1), (2010.83, 19.5), (2010.85, 20.1), (2010.87, 18.4),
               (2010.88, 21.6), (2010.90, 19.0), (2010.92, 21.0), (2010.95, 19.2), (2010.98, 23.5),
               (2011.00, 20.5), (2011.02, 22.0), (2011.04, 23.4), (2011.06, 19.5), (2011.07, 18.9),
               (2011.09, 21.5), (2011.10, 22.8), (2011.13, 20.0), (2011.15, 22.8), (2011.17, 23.1),
               (2011.20, 20.4), (2011.23, 23.0), (2011.26, 19.5), (2011.29, 18.4), (2011.33, 18.0),
               (2011.36, 19.5), (2011.39, 20.1), (2011.42, 18.3), (2011.45, 17.8), (2011.48, 20.6),
               (2011.51, 19.0), (2011.54, 18.6), (2011.58, 19.3), (2011.61, 18.0), (2011.64, 19.5),
               (2011.67, 18.0), (2011.70, 17.5), (2011.73, 17.0), (2011.76, 16.3), (2011.78, 17.4),
               (2011.80, 21.0), (2011.83, 18.5), (2011.86, 18.4), (2011.90, 19.6), (2011.93, 18.0),
               (2011.95, 21.3), (2011.98, 19.0), (2012.02, 18.6), (2012.05, 20.0), (2012.08, 19.0),
               (2012.11, 21.3), (2012.14, 19.0), (2012.17, 20.5), (2012.20, 22.7), (2012.23, 19.5),
               (2012.25, 22.7), (2012.27, 20.0), (2012.30, 19.0), (2012.33, 18.9), (2012.36, 21.0),
               (2012.39, 21.9), (2012.42, 19.5), (2012.46, 17.8), (2012.49, 21.3), (2012.52, 19.0),
               (2012.55, 18.5), (2012.58, 18.4), (2012.62, 19.0), (2012.65, 18.0), (2012.68, 17.5),
               (2012.72, 17.8), (2012.77, 16.6), (2012.80, 17.5), (2012.83, 18.2), (2012.86, 18.4),
               (2012.90, 17.0), (2012.93, 16.3), (2012.96, 17.5), (2012.99, 16.0), (2013.02, 17.5),
               (2013.05, 22.4), (2013.08, 19.5), (2013.11, 19.8), (2013.14, 18.5), (2013.18, 21.9),
               (2013.21, 19.0), (2013.24, 19.2), (2013.27, 20.0), (2013.30, 20.7), (2013.33, 19.0),
               (2013.37, 20.5), (2013.40, 21.3), (2013.44, 19.3), (2013.49, 19.5), (2013.52, 18.5),
               (2013.55, 20.7), (2013.58, 19.0), (2013.62, 18.5), (2013.65, 18.9), (2013.70, 17.8),
               (2013.74, 16.9), (2013.80, 17.2), (2013.87, 16.6), (2013.92, 17.5), (2013.96, 18.5),
               (2014.00, 19.8), (2014.03, 20.5), (2014.06, 21.9), (2014.09, 19.5), (2014.12, 19.2),
               (2014.15, 20.5), (2014.18, 19.0), (2014.21, 22.1), (2014.24, 19.5), (2014.28, 20.8),
               (2014.31, 20.4), (2014.35, 19.0), (2014.40, 21.9), (2014.43, 19.5), (2014.46, 19.2),
               (2014.50, 19.5), (2014.53, 18.6), (2014.56, 20.7), (2014.60, 19.0), (2014.65, 19.2),
               (2014.68, 18.0), (2014.72, 17.4), (2014.76, 16.8), (2014.81, 16.6), (2014.86, 16.3),
               (2014.90, 16.0), (2014.93, 16.5), (2014.97, 18.4), (2015.00, 19.5), (2015.03, 18.5),
               (2015.06, 20.0), (2015.09, 21.5), (2015.12, 19.5), (2015.16, 19.0), (2015.19, 20.7),
               (2015.22, 19.5), (2015.25, 19.5), (2015.28, 18.8), (2015.31, 19.2), (2015.34, 20.6),
               (2015.38, 20.1), (2015.41, 19.0), (2015.44, 19.8), (2015.47, 18.9), (2015.50, 20.4),
               (2015.53, 19.0), (2015.56, 19.8), (2015.60, 18.5), (2015.63, 20.1), (2015.66, 18.6),
               (2015.69, 18.1), (2015.72, 19.3), (2015.75, 19.8), (2015.78, 18.5), (2015.82, 19.8),
               (2015.86, 18.5), (2015.91, 17.8), (2015.94, 19.0), (2015.97, 20.6), (2016.00, 19.5),
               (2016.04, 19.0), (2016.07, 19.2), (2016.10, 20.5), (2016.13, 19.3), (2016.16, 20.2),
               (2016.19, 21.0), (2016.22, 19.5), (2016.25, 19.8), (2016.29, 19.5), (2016.32, 20.8),
               (2016.35, 19.4), (2016.38, 22.1), (2016.41, 19.5), (2016.45, 19.8), (2016.48, 19.5),
               (2016.52, 20.5), (2016.57, 20.1), (2016.60, 19.0), (2016.63, 19.8), (2016.66, 19.2),
               (2016.69, 19.6), (2016.72, 18.4), (2016.76, 18.0), (2016.79, 18.4), (2016.82, 17.4),
               (2016.85, 16.9), (2016.90, 18.0), (2016.95, 19.8), (2016.98, 19.0), (2017.02, 20.5),
               (2017.05, 21.5), (2017.07, 22.4), (2017.10, 20.0), (2017.13, 20.5), (2017.17, 20.7),
               (2017.20, 19.5), (2017.23, 20.8), (2017.26, 20.9), (2017.29, 19.6), (2017.32, 19.2),
               (2017.35, 20.5), (2017.40, 20.1), (2017.43, nan), (2017.46, 19.5), (2017.50, 20.2),
               (2017.53, nan), (2017.57, 18.1), (2017.62, 17.5), (2017.66, 17.2), (2017.70, 17.0),
               (2017.76, 16.9), (2017.80, 18.0), (2017.83, 19.8), (2017.86, 19.0), (2017.89, 19.8),
               (2017.92, 19.3), (2017.95, 20.1), (2017.98, 19.0), (2018.01, 19.5), (2018.05, 20.5),
               (2018.08, 22.2), (2018.11, 20.5), (2018.14, 19.5), (2018.17, 24.7), (2018.20, 20.0),
               (2018.23, 19.5), (2018.27, 20.5), (2018.30, 19.3), (2018.33, 20.4), (2018.37, 19.0),
               (2018.42, 20.1), (2018.45, 19.2), (2018.48, 18.9), (2018.52, 19.5), (2018.55, 18.6),
               (2018.58, 18.4), (2018.62, 18.0), (2018.67, 17.2), (2018.72, 17.0), (2018.77, 16.6),
               (2018.82, 16.6), (2018.86, 16.2), (2018.89, 17.0), (2018.92, 18.4), (2018.95, 22.5),
               (2018.97, 19.5), (2019.00, 20.0), (2019.03, 19.5), (2019.05, 25.2), (2019.07, 21.0),
               (2019.09, 19.8), (2019.12, 20.5), (2019.15, 19.0), (2019.18, 21.9), (2019.21, 19.5),
               (2019.24, 20.0), (2019.27, 19.5), (2019.30, 21.0), (2019.33, 23.1), (2019.36, 20.5),
               (2019.40, 21.3), (2019.43, 19.5), (2019.46, 20.7), (2019.50, 19.8), (2019.54, 19.0),
               (2019.58, 19.8), (2019.62, 18.6), (2019.65, 18.4), (2019.68, 19.0), (2019.71, 17.8),
               (2019.75, 18.5), (2019.80, 17.2), (2019.85, 18.5), (2019.90, 19.2), (2019.96, 19.8),
               (2020.02, 20.4), (2020.06, 19.5), (2020.09, 21.3), (2020.12, 20.0), (2020.15, 21.0),
               (2020.18, 21.6), (2020.21, 19.8), (2020.24, 21.6), (2020.27, 20.0), (2020.30, 21.9),
               (2020.34, 20.7), (2020.37, 19.5), (2020.40, 21.9), (2020.43, 20.0), (2020.46, 20.1),
               (2020.50, 19.0), (2020.53, 19.2), (2020.56, 20.0), (2020.59, 18.5), (2020.62, 19.5),
               (2020.65, 18.4), (2020.69, 17.8), (2020.71, 18.6), (2020.75, 19.3), (2020.78, 17.8),
               (2020.81, 18.6), (2020.84, 19.2), (2020.87, 20.5), (2020.90, 21.5), (2020.93, 19.5),
               (2020.97, 22.8), (2021.00, 20.5), (2021.03, 21.0), (2021.06, 23.7), (2021.09, 21.0),
               (2021.12, 20.5), (2021.15, 22.5), (2021.18, 21.0), (2021.22, 21.3), (2021.25, 20.0),
               (2021.28, 22.4), (2021.31, 20.0), (2021.34, 23.1), (2021.37, 20.5), (2021.40, 21.0),
               (2021.44, 22.5), (2021.47, 20.5), (2021.50, 19.5), (2021.53, 20.4), (2021.56, 19.8),
               (2021.59, 19.5), (2021.62, 20.5), (2021.66, 19.8), (2021.69, 20.0), (2021.72, 20.1),
               (2021.75, 21.0), (2021.78, 20.5), (2021.81, 20.5), (2021.84, 20.8), (2021.87, 19.5),
               (2021.90, 21.5), (2021.94, 20.0), (2021.97, 20.7), (2022.00, 20.0), (2022.03, 21.5),
               (2022.06, 20.5), (2022.10, 22.2), (2022.13, 20.0), (2022.16, 20.1), (2022.19, 21.5),
               (2022.22, 20.7), (2022.25, 19.5), (2022.28, 20.5), (2022.32, 21.3), (2022.35, 20.0),
               (2022.38, 20.7), (2022.41, 19.0), (2022.44, 20.0), (2022.47, 21.0), (2022.51, 19.5),
               (2022.54, 20.0), (2022.57, 19.8), (2022.60, 20.4), (2022.63, 18.5), (2022.66, 21.0),
               (2022.69, 19.0), (2022.72, 20.7), (2022.76, 19.2), (2022.80, 18.6), (2022.85, 19.0),
               (2022.90, 20.1), (2022.94, 20.5), (2022.98, 19.0), (2023.01, 23.7), (2023.04, 20.5),
               (2023.07, 21.0), (2023.10, 20.4), (2023.13, 21.0), (2023.17, 22.0), (2023.20, 19.5),
               (2023.23, 22.5), (2023.26, 20.5), (2023.29, 21.5), (2023.32, 20.0), (2023.35, 21.0),
               (2023.38, 20.5), (2023.42, 21.9), (2023.45, 20.0), (2023.48, 20.7), (2023.52, 19.5),
               (2023.56, 20.1), (2023.60, 19.0), (2023.65, 19.5), (2023.70, 18.0), (2023.75, 17.8),
               (2023.79, 17.4), (2023.83, 17.0), (2023.86, 18.6), (2023.90, 19.5), (2023.93, 21.5),
               (2023.95, 25.8), (2023.97, 21.0), (2024.00, 21.5), (2024.02, 20.0), (2024.05, 22.0),
               (2024.08, 20.5), (2024.11, 21.0), (2024.14, 19.0), (2024.17, 20.5), (2024.20, 22.0),
               (2024.23, 23.1), (2024.26, 20.5), (2024.29, 21.0), (2024.32, 19.5), (2024.36, 22.2),
               (2024.39, 20.0), (2024.42, 21.6), (2024.45, 19.8), (2024.48, 21.5), (2024.51, 20.0),
               (2024.55, 23.7), (2024.58, 21.0), (2024.61, 25.3), (2024.64, 20.5), (2024.67, 19.8),
               (2024.70, 20.1), (2024.73, 19.2), (2024.77, 18.5), (2024.80, 17.5), (2024.83, 17.2),
               (2024.86, 17.2), (2024.90, 18.5), (2024.93, 19.0), (2024.96, 18.0), (2024.99, 22.6),
               (2025.02, 20.5), (2025.05, 21.0), (2025.08, 19.5), (2025.11, 20.1), (2025.14, 21.5),
               (2025.17, 20.0), (2025.21, 22.8), (2025.24, 20.5), (2025.27, 21.5), (2025.30, 20.0),
               (2025.33, 22.0), (2025.36, 23.5), (2025.39, 20.7), (2025.43, 21.3), (2025.46, 20.2),
               (2025.49, 19.5), (2025.52, 16.6), (2025.55, 20.5), (2025.58, 21.8), (2025.61, 20.7)]

high_winter = [(2015.47, 17.4), (2015.50, 19.0), (2015.55, 19.6), (2015.60, 19.5), (2015.63, 18.5),
               (2015.66, 15.0), (2015.69, 11.0), (2015.72, 10.5), (2015.76, 13.5), (2015.79, 15.5),
               (2015.82, 11.0), (2015.86, 10.0), (2015.90, 14.0), (2015.94, 16.0), (2015.97, 10.5),
               (2016.02, 11.5), (2016.06, 16.5), (2016.09, 12.0), (2016.13, 10.0), (2016.17, 14.0),
               (2016.21, 17.0), (2016.25, 12.0), (2016.29, 15.5), (2016.33, 18.5), (2016.37, 19.5),
               (2016.40, 16.0), (2016.44, 20.5), (2016.48, 21.5), (2016.52, 17.0), (2016.56, 19.0),
               (2016.60, 22.4), (2016.63, 20.0), (2016.66, 15.0), (2016.70, 10.8), (2016.74, 9.8),
               (2016.80, 9.4), (2016.90, 9.3), (2017.00, 9.2), (2017.05, 10.0), (2017.08, 13.5),
               (2017.11, 9.8), (2017.16, 9.5), (2017.20, 12.0), (2017.23, 9.6), (2017.30, 9.4),
               (2017.35, 11.0), (2017.38, 14.5), (2017.41, 10.5), (2017.45, 13.0), (2017.50, 16.5),
               (2017.54, 11.0), (2017.58, 14.5), (2017.62, 18.0), (2017.66, 19.5), (2017.70, 17.0),
               (2017.74, 12.5), (2017.78, 9.8), (2017.84, 9.5), (2017.90, 9.8), (2017.95, 11.5),
               (2018.00, 13.5), (2018.02, 10.0), (2018.08, 12.0), (2018.12, 15.8), (2018.15, 10.5),
               (2018.20, 9.8), (2018.25, 13.5), (2018.30, 10.0), (2018.36, 15.0), (2018.40, 10.5),
               (2018.45, 17.2), (2018.50, 16.8), (2018.54, 12.0), (2018.60, 17.5), (2018.64, 13.0),
               (2018.68, 18.5), (2018.72, 14.0), (2018.76, 10.5), (2018.80, 9.9), (2018.85, 10.2),
               (2018.90, 11.5), (2018.95, 14.0), (2019.00, 11.0), (2019.05, 15.5), (2019.10, 12.0),
               (2019.15, 16.0), (2019.20, 12.5), (2019.25, 17.0), (2019.30, 13.0), (2019.33, 18.4),
               (2019.36, 18.7), (2019.40, 14.0), (2019.45, 17.5), (2019.50, 12.5), (2019.55, 16.5),
               (2019.60, 11.0), (2019.65, 13.0), (2019.70, 10.0), (2019.75, 12.0), (2019.80, nan),
               (2019.88, 9.8), (2019.92, 9.5), (2019.98, 10.2), (2020.04, 12.5), (2020.08, 10.0),
               (2020.12, 14.0), (2020.15, 18.0), (2020.18, 12.0), (2020.22, 16.5), (2020.26, 11.0),
               (2020.30, 17.0), (2020.34, 13.0), (2020.38, 16.0), (2020.42, 12.0), (2020.46, 17.5),
               (2020.50, 14.0), (2020.53, 17.0), (2020.57, 19.5), (2020.61, 15.0), (2020.65, 20.0),
               (2020.69, 16.0), (2020.73, 21.5), (2020.77, 14.0), (2020.81, 11.0), (2020.86, 9.5),
               (2020.92, 10.0), (2020.97, 12.0), (2021.00, 16.5), (2021.04, 10.5), (2021.08, 13.0),
               (2021.12, 9.5), (2021.16, 12.5), (2021.20, 10.0), (2021.25, 15.0), (2021.29, 11.0),
               (2021.33, 16.5), (2021.37, 13.0), (2021.41, 18.0), (2021.45, 14.0), (2021.49, 19.0),
               (2021.53, 20.6), (2021.56, 16.0), (2021.59, 19.0), (2021.63, 15.5), (2021.67, 18.5),
               (2021.71, 14.5), (2021.75, 17.0), (2021.79, 13.0), (2021.84, 20.7), (2021.87, 20.9),
               (2021.91, 17.0), (2021.95, 18.5), (2021.99, 15.5), (2022.03, 17.5), (2022.07, 14.5),
               (2022.11, 17.5), (2022.16, 18.7), (2022.20, 19.0), (2022.25, 18.5), (2022.30, 19.0),
               (2022.35, 18.6), (2022.40, 17.5), (2022.45, 19.5), (2022.50, 18.5), (2022.55, 19.5),
               (2022.60, 18.9), (2022.66, 19.7)]

high_uniform = [(2019.08, 19.3), (2019.12, 19.8), (2019.18, 20.1), (2019.21, 21.0), (2019.24, 20.4),
                (2019.27, 20.7), (2019.30, 20.1), (2019.33, 20.4), (2019.36, 21.8), (2019.40, 21.0),
                (2019.43, 20.4), (2019.46, 20.7), (2019.50, 20.0), (2019.52, 19.5), (2019.56, 18.9),
                (2019.58, 18.5), (2019.62, 17.5), (2019.65, 16.0), (2019.68, 15.2), (2019.72, 14.6),
                (2019.76, 14.5), (2019.80, 14.6), (2019.85, 15.0), (2019.90, 16.3), (2019.96, 17.0),
                (2020.02, 17.5), (2020.06, 18.5), (2020.09, 19.5), (2020.12, 22.0), (2020.15, 24.6),
                (2020.17, 23.5), (2020.19, 24.3), (2020.21, 23.1), (2020.24, 23.0), (2020.27, 24.3),
                (2020.30, 24.9), (2020.34, 24.5), (2020.37, 24.0), (2020.40, 23.1), (2020.43, 21.5),
                (2020.46, 20.7), (2020.50, 19.8), (2020.53, 19.5), (2020.56, 21.0), (2020.59, 23.7),
                (2020.62, 24.0), (2020.65, 23.6), (2020.68, 22.0), (2020.71, 21.6), (2020.75, 20.0),
                (2020.78, 19.5), (2020.81, 18.5), (2020.84, 17.5), (2020.87, 16.8), (2020.90, 16.0),
                (2020.94, 16.0), (2020.97, 16.3), (2021.00, 16.5), (2021.03, 17.0), (2021.06, 17.5),
                (2021.08, 22.0), (2021.09, 26.0), (2021.12, 25.0), (2021.15, 22.8), (2021.18, 24.0),
                (2021.22, 25.6), (2021.25, 24.0), (2021.28, 23.2), (2021.31, 22.6), (2021.34, 22.5),
                (2021.37, 21.0), (2021.40, 20.7), (2021.44, 23.0), (2021.47, 24.9), (2021.50, 24.5),
                (2021.53, 24.3), (2021.56, 23.5), (2021.59, 24.3), (2021.62, 23.8), (2021.66, 24.3),
                (2021.69, 24.6), (2021.72, 24.3), (2021.75, 24.9), (2021.78, 25.2), (2021.81, 24.5),
                (2021.84, 25.2), (2021.87, 25.0), (2021.90, 25.5), (2021.94, 25.5), (2021.97, 26.8),
                (2022.00, 25.7), (2022.03, 25.8), (2022.06, 24.8), (2022.10, 23.4), (2022.13, 22.8),
                (2022.16, 23.1), (2022.19, 21.0), (2022.22, 19.5), (2022.25, 19.2), (2022.28, 22.0),
                (2022.32, 25.2), (2022.35, 24.6), (2022.38, 24.5), (2022.41, 25.2), (2022.44, 24.0),
                (2022.47, 24.9), (2022.51, 23.1), (2022.54, 24.6), (2022.57, 24.3), (2022.60, 24.9),
                (2022.63, 24.4), (2022.66, 24.9), (2022.69, 24.0), (2022.72, 24.7), (2022.76, 25.9),
                (2022.79, 24.8), (2022.82, 24.0), (2022.85, 23.4), (2022.88, 22.5), (2022.91, 22.0),
                (2022.94, 21.5), (2022.98, 21.0), (2023.01, 20.4), (2023.04, 19.8), (2023.08, nan),
                (2023.22, 26.9), (2023.24, 26.5), (2023.27, 26.2), (2023.29, 26.5), (2023.32, 26.1),
                (2023.35, 25.6), (2023.38, 25.8), (2023.41, 25.3), (2023.44, 25.0), (2023.48, 25.3),
                (2023.51, 24.5), (2023.54, 24.0), (2023.57, 23.0), (2023.60, 21.0), (2023.64, 19.0),
                (2023.67, 17.0), (2023.70, 16.0), (2023.73, 15.2), (2023.76, 14.5), (2023.79, 13.4),
                (2023.82, 14.5), (2023.86, 16.0), (2023.88, 24.0), (2023.89, 26.4), (2023.91, 22.0),
                (2023.93, 20.0), (2023.95, 23.5), (2023.98, 26.5), (2024.02, 27.8), (2024.04, 26.0),
                (2024.06, 24.0), (2024.09, 22.0), (2024.12, 20.5), (2024.15, 19.5), (2024.18, 19.8),
                (2024.21, 20.5), (2024.24, 21.5), (2024.27, 22.5), (2024.30, 20.5), (2024.33, 19.0),
                (2024.36, 19.5), (2024.39, 24.3), (2024.42, 26.5), (2024.45, 26.0), (2024.48, 25.2),
                (2024.52, 24.8), (2024.55, 24.0), (2024.58, 23.8), (2024.61, 22.8), (2024.64, 21.5),
                (2024.67, 19.5), (2024.70, 18.5), (2024.73, 18.0), (2024.77, 17.0), (2024.80, 16.5),
                (2024.83, 15.7), (2024.86, 15.0), (2024.89, 14.2)]

panels = [
    ("Lowest rainfall", low_wa, low_summer, low_winter, low_uniform, (2016.49, 2025.83), range(2017, 2026)),
    ("Median rainfall", med_wa, med_summer, med_winter, med_uniform, (2010.47, 2025.74), range(2011, 2026)),
    ("Highest rainfall", high_wa, high_summer, high_winter, high_uniform, (2010.47, 2025.74), range(2011, 2026)),
]

group_names = ["WA", "Summer", "Winter", "Uniform"]
group_colors = ["darkorchid", "crimson", "royalblue", "forestgreen"]

# ---------------------------------------------------------------------------
fig = plt.figure(figsize=(881 / 125, 1295 / 125), dpi=125)
axes_rects = [
    [0.0795, 0.6705, 0.9194, 0.2629],
    [0.0795, 0.3558, 0.9194, 0.2622],
    [0.0795, 0.0407, 0.9194, 0.2622],
]

for rect, (title, wa, summer, winter, uniform, xlim, years) in zip(axes_rects, panels):
    ax = fig.add_axes(rect)

    # Seasonal shading: summer Dec-Feb, winter Jun-Aug
    for yr in range(2009, 2027):
        ax.axvspan(yr + 11 / 12, yr + 1 + 2 / 12, color="brown", alpha=0.075, lw=0, zorder=0)
        ax.axvspan(yr + 5 / 12, yr + 8 / 12, color="blue", alpha=0.06, lw=0, zorder=0)

    for series, col in zip([wa, summer, winter, uniform], group_colors):
        arr = np.array(series, dtype=float)
        ax.plot(arr[:, 0], arr[:, 1], color=col, lw=1.5, zorder=2)

    ax.set_xlim(*xlim)
    ax.set_ylim(2, 32)
    ax.set_xticks(list(years))
    ax.set_xticklabels([str(y) for y in years])
    ax.set_yticks([5, 10, 15, 20, 25, 30])
    ax.set_ylabel("VWC (%)")
    ax.set_title(title)

    if title == "Lowest rainfall":
        season_handles = [Patch(color="brown", alpha=0.3, label="Summer"),
                          Patch(color="blue", alpha=0.2, label="Winter")]
        ax.legend(handles=season_handles, loc="upper left")
    if title == "Highest rainfall":
        ax.set_xlabel("Year")

line_handles = [Line2D([0], [0], color=c, lw=1.5, label=n) for n, c in zip(group_names, group_colors)]
fig.legend(handles=line_handles, loc="upper center", ncol=4,
           bbox_to_anchor=(0.547, 0.9935))

fig.savefig("out.png", dpi=125)
